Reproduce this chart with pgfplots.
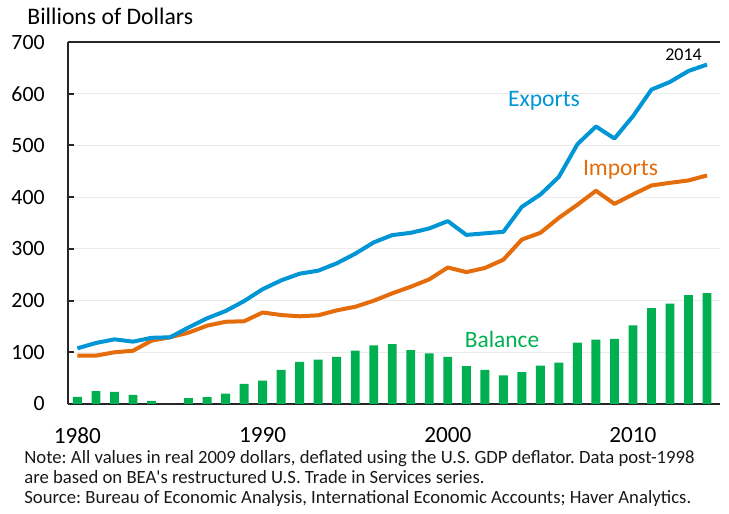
\documentclass[border=0pt]{standalone}
\usepackage{fontspec}
\setmainfont{Carlito}
\usepackage{pgfplots}
\pgfplotsset{compat=1.18}
\definecolor{expblue}{HTML}{0096D6}
\definecolor{imporange}{HTML}{E46C0A}
\definecolor{balgreen}{HTML}{00B050}
\frenchspacing

\pgfplotstableread{
year exports imports balance
1980 107.7 93.5 13.7
1981 118.0 93.5 24.7
1982 125.0 100.0 23.4
1983 120.6 103.0 17.6
1984 128.0 122.5 6.0
1985 129.0 129.0 0.0
1986 148.0 138.0 11.2
1987 165.7 151.5 13.1
1988 179.8 159.0 20.0
1989 199.0 160.0 38.8
1990 222.0 177.0 45.2
1991 239.0 172.0 65.9
1992 252.0 169.6 81.3
1993 257.8 171.5 85.8
1994 272.0 181.0 91.0
1995 290.6 188.0 103.0
1996 312.5 199.7 113.5
1997 326.6 214.0 116.0
1998 331.0 226.8 104.0
1999 339.5 241.0 98.0
2000 353.7 264.0 91.0
2001 327.0 255.0 73.0
2002 330.0 263.0 66.0
2003 333.0 279.0 55.5
2004 381.3 318.0 61.4
2005 405.0 331.0 74.0
2006 439.3 360.0 80.0
2007 502.4 385.3 118.7
2008 536.6 412.3 124.5
2009 513.4 387.0 125.8
2010 556.5 405.3 152.0
2011 608.0 422.6 185.6
2012 622.8 427.7 194.0
2013 644.0 432.3 210.7
2014 656.4 442.0 214.6
}\datatable

\begin{document}
\begin{tikzpicture}
\path[use as bounding box] (-34pt,-55pt) rectangle (330.5pt,202pt);
\begin{axis}[
  at={(0,0)}, anchor=south west,
  scale only axis, width=326pt, height=181pt,
  xmin=1979.49, xmax=2014.7, ymin=0, ymax=700,
  axis x line*=bottom, axis y line*=left,
  axis line style={line width=1pt, black!85},
  xtick={1980,1990,2000,2010},
  ytick={0,100,...,700},
  xtick style={draw=none},
  ytick style={line width=1pt, black!85},
  tick align=inside, major tick length=3pt,
  ymajorgrids, grid style={draw=black!8, line width=0.6pt},
  /pgf/number format/assume math mode=true,
  xticklabel style={font=\fontsize{11.6}{13}\selectfont, anchor=north, inner sep=0pt, yshift=-11.5pt},
  yticklabel style={font=\fontsize{10.9}{13}\selectfont, anchor=east, inner sep=0pt, xshift=-11.5pt},
  xticklabel={\pgfmathprintnumber[int detect,1000 sep={}]{\tick}},
  clip=false,
]
\addplot[ybar, bar width=0.48, fill=balgreen, draw=none] table[x=year, y=balance] {\datatable};
\addplot[imporange, line width=2pt, line join=round] table[x=year, y=imports] {\datatable};
\addplot[expblue, line width=2pt, line join=round] table[x=year, y=exports] {\datatable};
\draw[line width=1pt, black!85] (rel axis cs:0,1) -- (rel axis cs:1,1);
\end{axis}
\node[anchor=base west, inner sep=0pt, font=\fontsize{11.85}{14}\selectfont] at (-20.5pt,189.5pt) {Billions of Dollars};
\node[anchor=base, inner sep=0pt, text=expblue, font=\fontsize{11.8}{14}\selectfont] at (238pt,148.7pt) {Exports};
\node[anchor=base, inner sep=0pt, text=imporange, font=\fontsize{11.8}{14}\selectfont] at (276.25pt,114.2pt) {Imports};
\node[anchor=base, inner sep=0pt, text=balgreen, font=\fontsize{11.7}{14}\selectfont] at (217pt,28.35pt) {Balance};
\node[anchor=base, inner sep=0pt, font=\fontsize{9}{11}\selectfont] at (307.75pt,171.65pt) {2014};
\begin{scope}[every node/.style={anchor=base west, inner sep=0pt, font=\fontsize{9.35}{11}\selectfont, text=black!90}]
\node at (-22pt,-29.65pt) {Note: All values in real 2009 dollars, deflated using the U.S. GDP deflator. Data post-1998};
\node at (-22pt,-39.85pt) {are based on BEA\textquotesingle s restructured U.S. Trade in Services series.};
\node at (-22pt,-50pt) {Source: Bureau of Economic Analysis, International Economic Accounts; Haver Analytics.};
\end{scope}
\end{tikzpicture}
\end{document}
